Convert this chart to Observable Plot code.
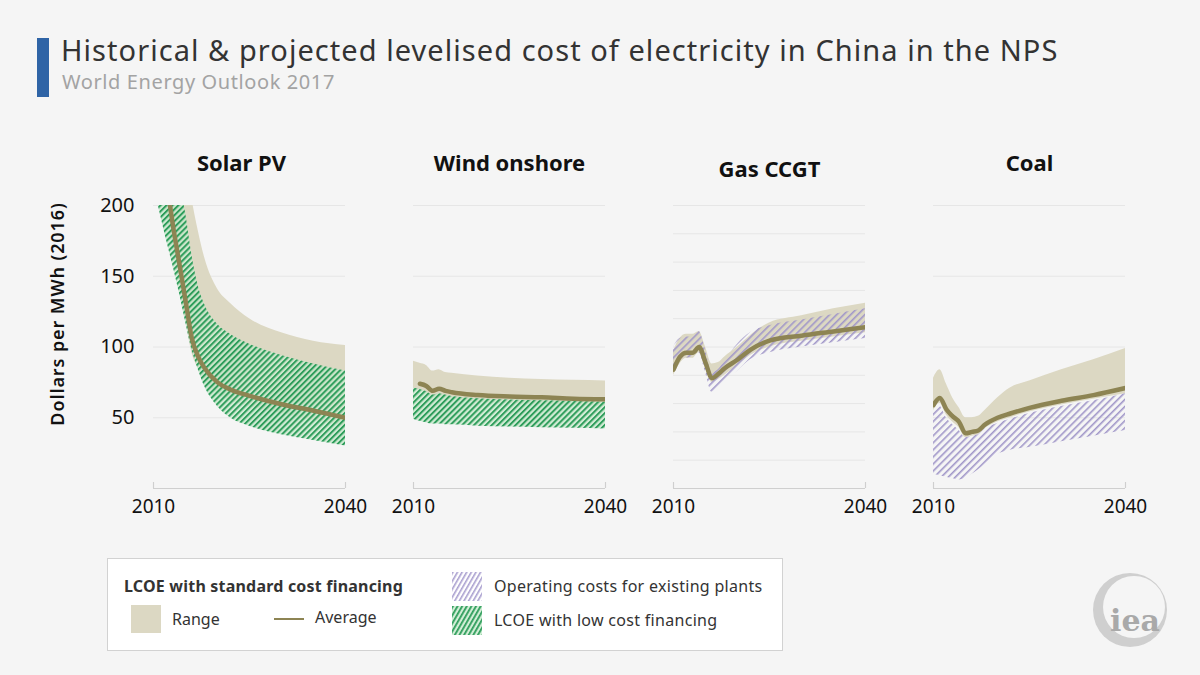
<!DOCTYPE html>
<html>
<head>
<meta charset="utf-8">
<script src="https://cdn.jsdelivr.net/npm/d3@7"></script>
<script src="https://cdn.jsdelivr.net/npm/@observablehq/plot@0.6"></script>
<style>
  html, body { margin: 0; padding: 0; background: #f5f5f5; }
  #page { position: relative; width: 1200px; height: 675px; background: #f5f5f5; font-family: "Noto Sans", sans-serif; overflow: hidden; }
  #bar { position: absolute; left: 37px; top: 38px; width: 12px; height: 59px; background: #2f64a6; }
  #title { position: absolute; left: 61px; top: 32px; font-size: 29px; letter-spacing: 1.05px; color: #333; white-space: nowrap; line-height: 36px; }
  #subtitle { position: absolute; left: 62px; top: 70px; font-size: 20px; letter-spacing: 0.6px; color: #a3a3a3; white-space: nowrap; line-height: 24px; }
  #chart { position: absolute; left: 0; top: 120px; }
  #ylabel { position: absolute; left: 57px; top: 314px; transform: translate(-50%, -50%) rotate(-90deg); font-size: 18px; letter-spacing: 0.9px; font-weight: 600; color: #111; white-space: nowrap; }
  #legend { position: absolute; left: 107px; top: 558px; width: 676px; height: 93px; box-sizing: border-box; background: #fff; border: 1px solid #d2d2d2; font-size: 16px; color: #333; }
  #legend .t { position: absolute; white-space: nowrap; line-height: 20px; }
  #legend svg { position: absolute; }
  #logo { position: absolute; left: 1088px; top: 570px; }
</style>
</head>
<body>
<div id="page">
  <div id="bar"></div>
  <div id="title">Historical &amp; projected levelised cost of electricity in China in the NPS</div>
  <div id="subtitle">World Energy Outlook 2017</div>
  <div id="chart"></div>
  <div id="ylabel">Dollars per MWh (2016)</div>
  <div id="legend">
    <div class="t" style="left:16px; top:17px; font-weight:700; letter-spacing:0.2px;">LCOE with standard cost financing</div>
    <svg style="left:23px; top:46px;" width="30" height="28"><rect width="30" height="28" fill="#dcd8c3"/></svg>
    <div class="t" style="left:64px; top:50px;">Range</div>
    <svg style="left:166px; top:56px;" width="30" height="8"><line x1="0" x2="30" y1="4" y2="4" stroke="#8d8453" stroke-width="2"/></svg>
    <div class="t" style="left:207px; top:48px;">Average</div>
    <svg style="left:344px; top:13px;" width="30" height="29">
      <defs><pattern id="lgPurple" patternUnits="userSpaceOnUse" width="4" height="4" patternTransform="rotate(30)"><rect width="1.6" height="4" fill="#a99fcf"/></pattern></defs>
      <rect width="30" height="29" fill="url(#lgPurple)"/></svg>
    <div class="t" style="left:386px; top:17px; letter-spacing:0.3px;">Operating costs for existing plants</div>
    <svg style="left:344px; top:47px;" width="30" height="29">
      <defs><pattern id="lgGreen" patternUnits="userSpaceOnUse" width="4" height="4" patternTransform="rotate(30)"><rect width="4" height="4" fill="#d2eed6"/><rect width="1.8" height="4" fill="#2e9d5b"/></pattern></defs>
      <rect width="30" height="29" fill="url(#lgGreen)"/></svg>
    <div class="t" style="left:386px; top:51px; letter-spacing:0.3px;">LCOE with low cost financing</div>
  </div>
  <svg id="logo" width="84" height="84" viewBox="0 0 84 84">
    <circle cx="42" cy="40" r="37" fill="#cfcfcf"/>
    <circle cx="46" cy="37" r="31" fill="#f5f5f5"/>
    <text x="47" y="61" text-anchor="middle" font-family="DejaVu Serif, serif" font-weight="700" font-size="30" fill="#a9a9a9">iea</text>
  </svg>
</div>
<script>
const FONT = "'Noto Sans', sans-serif";
const panels = ["Solar PV", "Wind onshore", "Gas CCGT", "Coal"];
const xTicks = [2010, 2040];
const yTicks = [50, 100, 150, 200];

// Solar PV
const solarYears       = [2010, 2011, 2012, 2013, 2014, 2015, 2016, 2017, 2018, 2020, 2022, 2025, 2030, 2035, 2040];
const solarRangeHigh   = [420,  380,  340,  300,  265,  235,  205,  182,  163,  141,  131,  120,  110,  104,  101];
const solarRangeLow    = [250,  220,  195,  170,  145,  120,  96,   85,   78,   67,   62,   58,   53,   48,   44];
const solarAverage     = [300,  260,  220,  187,  160,  133,  106,  93,   85,   75,   70,   65.5, 59.5, 55,   50];
const solarLowFinHigh  = [330,  300,  270,  240,  215,  195,  165,  143,  130,  116,  109,  102,  94,   88,   83];
const solarLowFinLow   = [215,  195,  176,  158,  139,  118,  98,   84,   72,   58,   50,   44,   38,   34,   30];

// Wind onshore
const windYears        = [2010, 2011, 2012, 2013, 2014, 2015, 2016, 2020, 2025, 2030, 2035, 2040];
const windRangeHigh    = [90,   88.5, 87,   83,   84,   82,   81.5, 79.5, 78,   77,   76.5, 76];
const windRangeLow     = [70,   69,   67,   64,   65,   64,   63,   61,   60,   59.5, 59,   58];
const windAverage      = [null, 74,   72.5, 69,   70.5, 69,   68,   66,   65,   64.5, 63.5, 63];
const windLowFinHigh   = [71,   70,   68.5, 66,   67,   66,   65,   63.5, 62.5, 62,   61.5, 61];
const windLowFinLow    = [49,   47.5, 46.5, 45.5, 45.5, 45,   45,   44,   43.5, 43,   42.5, 42];

// Gas CCGT
const gasYears         = [2010, 2011, 2012, 2013, 2014, 2015, 2016, 2017, 2018, 2020, 2022, 2025, 2030, 2035, 2040];
const gasRangeHigh     = [97,   106,  109,  109,  111,  100,  88,   89,   93,   100,  108,  117,  122,  127,  131];
const gasRangeLow      = [80,   88,   92,   92,   96,   85,   75,   77,   80,   87,   94,   100,  104,  107,  110];
const gasAverage       = [84,   93,   96,   96,   100,  89,   78,   81,   85,   91,   98,   104.5,108,  111,  114];
const gasOpHigh        = [100,  106,  107,  107,  111,  98,   82,   84,   90,   102,  110,  115,  119,  123,  127];
const gasOpLow         = [84,   90,   92,   93,   96,   82,   68,   70,   75,   83,   91,   96,   100,  103,  106];

// Coal
const coalYears        = [2010, 2011, 2012, 2013, 2014, 2015, 2016, 2017, 2018, 2020, 2022, 2025, 2030, 2035, 2040];
const coalRangeHigh    = [78,   84,   74,   64,   57,   50,   50,   51,   55,   64,   71,   76,   84,   91,   99];
const coalRangeLow     = [55,   60,   52,   47,   43,   36,   37,   38,   42,   47,   50,   54,   59,   63,   67];
const coalAverage      = [59,   64,   56,   51,   47,   39,   40,   41,   45,   50,   53,   57,   62,   66,   71];
const coalOpHigh       = [54,   58,   50,   45,   41,   36,   37,   38,   42,   46,   49,   53,   58,   62,   67];
const coalOpLow        = [10,   9,    8,    7,    6,    7,    10,   13,   17,   24,   27,   29,   33,   37,   41];

// gridlines per panel
const gridSolar = [50, 100, 150, 200];
const gridWind  = [50, 100, 150, 200];
const gridGas   = [20, 40, 60, 80, 100, 120, 140, 160, 180, 200];
const gridCoal  = [50, 100, 150, 200];

function band(panel, years, lo, hi) {
  return years.map((year, i) => ({panel, year, lo: lo[i], hi: hi[i]}));
}
function series(panel, years, v) {
  return years.map((year, i) => ({panel, year, v: v[i]})).filter(d => d.v != null);
}
const rangeRows = [
  ...band("Solar PV", solarYears, solarRangeLow, solarRangeHigh),
  ...band("Wind onshore", windYears, windRangeLow, windRangeHigh),
  ...band("Gas CCGT", gasYears, gasRangeLow, gasRangeHigh),
  ...band("Coal", coalYears, coalRangeLow, coalRangeHigh)
];
const lowFinRows = [
  ...band("Solar PV", solarYears, solarLowFinLow, solarLowFinHigh),
  ...band("Wind onshore", windYears, windLowFinLow, windLowFinHigh)
];
const opRows = [
  ...band("Gas CCGT", gasYears, gasOpLow, gasOpHigh),
  ...band("Coal", coalYears, coalOpLow, coalOpHigh)
];
const avgRows = [
  ...series("Solar PV", solarYears, solarAverage),
  ...series("Wind onshore", windYears, windAverage),
  ...series("Gas CCGT", gasYears, gasAverage),
  ...series("Coal", coalYears, coalAverage)
];
const gridRows = [
  ...gridSolar.map(v => ({panel: "Solar PV", v})),
  ...gridWind.map(v => ({panel: "Wind onshore", v})),
  ...gridGas.map(v => ({panel: "Gas CCGT", v})),
  ...gridCoal.map(v => ({panel: "Coal", v}))
];

const titleStyle = {fx: d => d, text: d => d, frameAnchor: "top", lineAnchor: "middle", fontSize: 22, fontWeight: "bold", fill: "#111"};

const svg = Plot.plot({
  width: 1200,
  height: 410,
  marginLeft: 152,
  marginRight: 74,
  marginTop: 85,
  marginBottom: 42,
  style: {background: "transparent", fontFamily: FONT, color: "#222"},
  fx: {domain: panels, paddingInner: 0.26, paddingOuter: 0, axis: null, label: null},
  x: {domain: [2010, 2040]},
  y: {domain: [0, 200]},
  marks: [
    Plot.ruleY(gridRows, {y: "v", fx: "panel", stroke: "#e6e6e6", strokeWidth: 1}),
    Plot.areaY(rangeRows, {x: "year", y1: "lo", y2: "hi", fx: "panel", fill: "#dcd8c3", curve: "monotone-x", clip: true}),
    Plot.areaY(opRows, {x: "year", y1: "lo", y2: "hi", fx: "panel", fill: "url(#hatchPurple)", curve: "monotone-x", clip: true}),
    Plot.areaY(lowFinRows, {x: "year", y1: "lo", y2: "hi", fx: "panel", fill: "url(#hatchGreen)", curve: "monotone-x", clip: true}),
    Plot.lineY(avgRows, {x: "year", y: "v", fx: "panel", z: "panel", stroke: "#8d8453", strokeWidth: 4.5, strokeLinejoin: "round", curve: "monotone-x", clip: true}),
    Plot.ruleY([0], {stroke: "#cfcfcf", strokeWidth: 1.2}),
    Plot.tickX(xTicks, {x: d => d, stroke: "#cfcfcf", strokeWidth: 1.2, insetTop: 277}),
    Plot.axisX({ticks: xTicks, tickSize: 0, tickPadding: 11, fontSize: 19, tickFormat: d => String(d), label: null, fill: "#111"}),
    Plot.axisY({ticks: yTicks, tickSize: 0, tickPadding: 19, fontSize: 20, label: null, fill: "#111"}),
    Plot.text(panels.filter(p => p === "Solar PV"), {...titleStyle, dy: -42, dx: -8}),
    Plot.text(panels.filter(p => p === "Wind onshore" || p === "Coal"), {...titleStyle, dy: -42}),
    Plot.text(panels.filter(p => p === "Gas CCGT"), {...titleStyle, dy: -36})
  ]
});

const defs = d3.select(svg).insert("defs", ":first-child");
const pg = defs.append("pattern").attr("id", "hatchGreen").attr("patternUnits", "userSpaceOnUse")
  .attr("width", 4.2).attr("height", 4.2).attr("patternTransform", "rotate(45)");
pg.append("rect").attr("width", 4.2).attr("height", 4.2).attr("fill", "#c9eacd").attr("fill-opacity", 0.8);
pg.append("rect").attr("width", 2).attr("height", 4.2).attr("fill", "#2e9d5b");
const pp = defs.append("pattern").attr("id", "hatchPurple").attr("patternUnits", "userSpaceOnUse")
  .attr("width", 5).attr("height", 5).attr("patternTransform", "rotate(45)");
pp.append("rect").attr("width", 1.6).attr("height", 5).attr("fill", "#a197c9");

document.getElementById("chart").appendChild(svg);
</script>
</body>
</html>
